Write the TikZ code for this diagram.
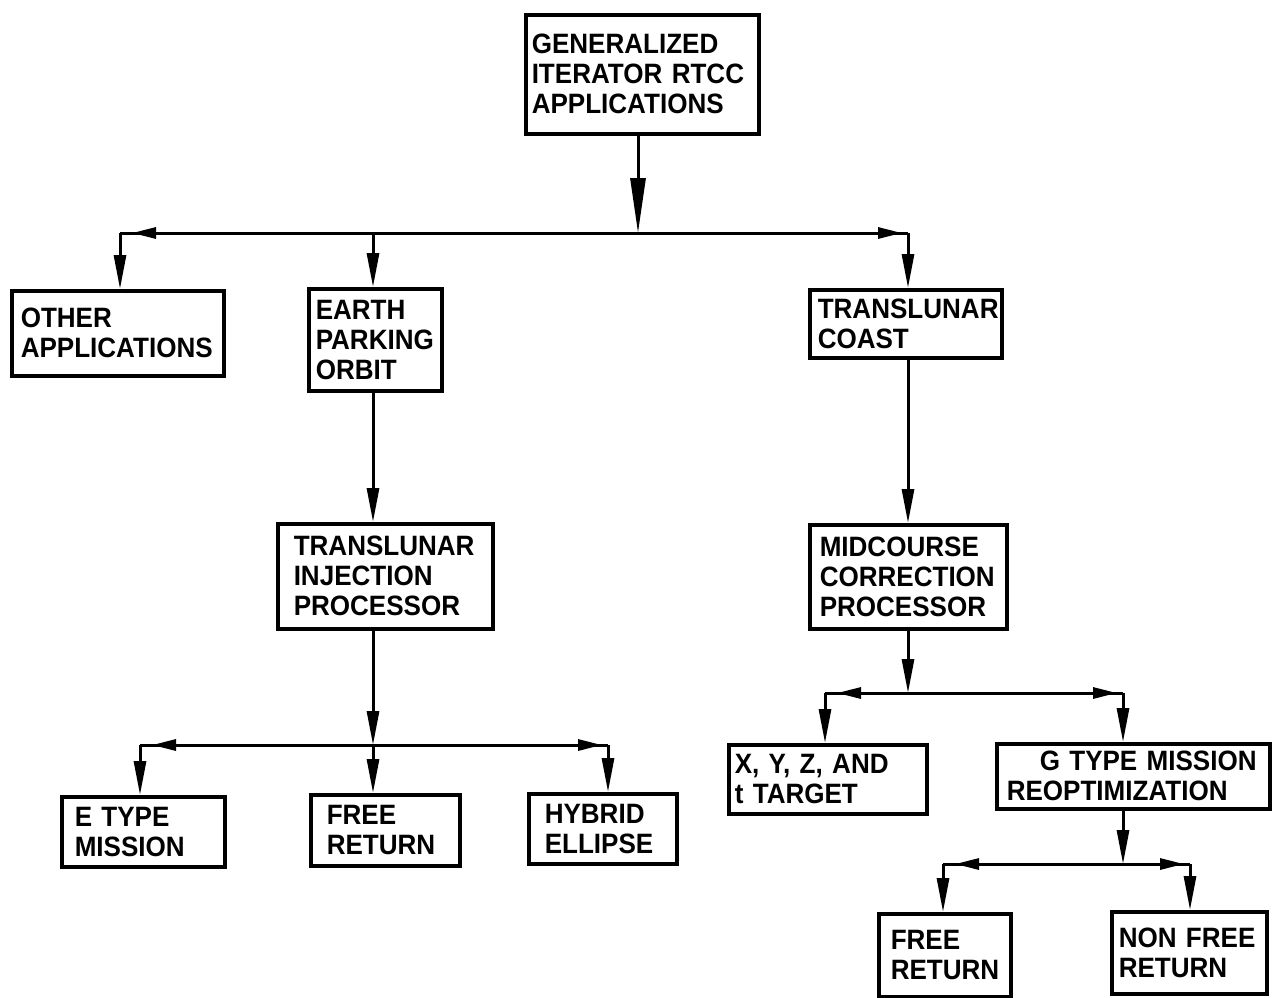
\documentclass[tikz,border=0pt]{standalone}
\usepackage{fontspec}
\setmainfont[FakeStretch=0.93]{Liberation Sans}
\usetikzlibrary{arrows.meta}
\tikzset{
  box/.style n args={3}{draw, line width=3.5pt, anchor=north west,
    text width=#1, minimum height=#2, inner xsep=#3, inner ysep=2pt,
    align=left, font=\fontsize{28}{30}\selectfont\bfseries},
  conn/.style={line width=3pt},
  down/.style={-{Triangle[length=34pt,width=12pt]}},
  topdown/.style={-{Triangle[length=55pt,width=15pt]}},
  side/.style={-{Triangle[length=24pt,width=11pt]}},
}
\begin{document}
\begin{tikzpicture}[x=1pt,y=-1pt]
\useasboundingbox (0,0) rectangle (1274,997);

% boxes
\node[box={221pt}{119pt}{6pt}]  (top)     at (524,13)  {GENERALIZED\\ITERATOR RTCC\\APPLICATIONS};
\node[box={194pt}{85pt}{9pt}]   (other)   at (10,289)  {OTHER\\APPLICATIONS};
\node[box={119pt}{102pt}{7pt}]  (epo)     at (307,287) {EARTH\\PARKING\\ORBIT};
\node[box={176pt}{68pt}{8pt}]   (tlc)     at (808,288) {TRANSLUNAR\\COAST};
\node[box={183pt}{105pt}{16pt}] (tli)     at (276,522) {TRANSLUNAR\\INJECTION\\PROCESSOR};
\node[box={177pt}{104pt}{10pt}] (mcp)     at (808,523) {MIDCOURSE\\CORRECTION\\PROCESSOR};
\node[box={137pt}{70pt}{13pt}]  (etype)   at (60,795)  {E TYPE\\MISSION};
\node[box={117pt}{71pt}{16pt}]  (free1)   at (309,793) {FREE\\RETURN};
\node[box={116pt}{70pt}{16pt}]  (hybrid)  at (527,792) {HYBRID\\ELLIPSE};
\node[box={186pt}{69pt}{6pt}]   (xyz)     at (727,743) {X, Y, Z, AND\\t TARGET};
\node[box={253pt}{65pt}{10pt}]  (gtype)   at (995,742) {\hspace*{33pt}G TYPE MISSION\\REOPTIMIZATION};
\node[box={108pt}{83pt}{12pt}]  (free2)   at (877,912) {FREE\\RETURN};
\node[box={141pt}{82pt}{7pt}]   (nonfree) at (1110,910) {NON\ FREE\\RETURN};

% branch points and corners
\coordinate (h1) at (638,233);
\coordinate (c1a) at (120,233);
\coordinate (c1b) at (373,233);
\coordinate (c1c) at (908,233);
\coordinate (h2) at (373,745);
\coordinate (c2a) at (140,745);
\coordinate (c2c) at (608,745);
\coordinate (h3) at (908,693);
\coordinate (c3a) at (825,693);
\coordinate (c3b) at (1123,693);
\coordinate (h4) at (1123,864);
\coordinate (c4a) at (943,864);
\coordinate (c4b) at (1190,864);

% first level
\draw[conn,topdown] (h1 |- top.south) -- (h1);
\draw[conn] (c1a) -- (c1c);
\draw[conn,side] (h1) -- ([xshift=12pt]c1a);
\draw[conn,side] (h1) -- ([xshift=-6pt]c1c);
\draw[conn,down] (c1a) -- (c1a |- other.north);
\draw[conn,down] (c1b) -- (c1b |- epo.north);
\draw[conn,down] (c1c) -- (c1c |- tlc.north);

% earth parking orbit branch
\draw[conn,down] (c1b |- epo.south) -- (c1b |- tli.north);
\draw[conn,down] (h2 |- tli.south) -- (h2);
\draw[conn] (c2a) -- (c2c);
\draw[conn,side] (h2) -- ([xshift=12pt]c2a);
\draw[conn,side] (h2) -- ([xshift=-6pt]c2c);
\draw[conn,down] (c2a) -- (c2a |- etype.north);
\draw[conn,down] (h2) -- (h2 |- free1.north);
\draw[conn,down] (c2c) -- (c2c |- hybrid.north);

% translunar coast branch
\draw[conn,down] (c1c |- tlc.south) -- (c1c |- mcp.north);
\draw[conn,down] (h3 |- mcp.south) -- (h3);
\draw[conn] (c3a) -- (c3b);
\draw[conn,side] (h3) -- ([xshift=12pt]c3a);
\draw[conn,side] (h3) -- ([xshift=-6pt]c3b);
\draw[conn,down] (c3a) -- (c3a |- xyz.north);
\draw[conn,down] (c3b) -- (c3b |- gtype.north);

% reoptimization branch
\draw[conn,down] (h4 |- gtype.south) -- (h4);
\draw[conn] (c4a) -- (c4b);
\draw[conn,side] (h4) -- ([xshift=12pt]c4a);
\draw[conn,side] (h4) -- ([xshift=-6pt]c4b);
\draw[conn,down] (c4a) -- (c4a |- free2.north);
\draw[conn,down] (c4b) -- (c4b |- nonfree.north);
\end{tikzpicture}
\end{document}
